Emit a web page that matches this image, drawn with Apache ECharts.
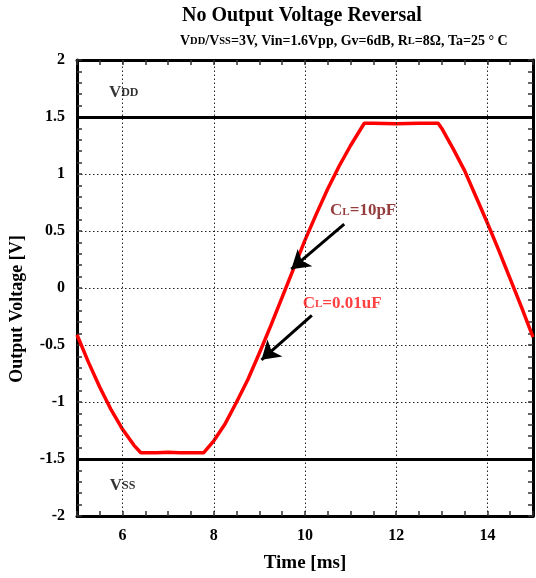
<!DOCTYPE html>
<html>
<head>
<meta charset="utf-8">
<script src="https://cdn.jsdelivr.net/npm/echarts@6/dist/echarts.min.js"></script>
<style>
html,body{margin:0;padding:0;background:#fff;}
#chart{width:536px;height:578px;}
</style>
</head>
<body>
<div id="chart"></div>
<script>
// Time in ms
const timeMs = [5.00, 5.25, 5.50, 5.75, 6.00, 6.25, 6.40, 6.75, 7.00, 7.25, 7.50, 7.78,
  8.00, 8.25, 8.50, 8.75, 9.00, 9.25, 9.50, 9.75, 10.00, 10.25, 10.50, 10.75, 11.00,
  11.30, 11.50, 12.00, 12.50, 12.92, 13.00, 13.25, 13.50, 13.75, 14.00, 14.25, 14.50,
  14.75, 15.00];
// Output voltage in V
const outputV = [-0.41, -0.65, -0.87, -1.07, -1.24, -1.38, -1.445, -1.445, -1.44, -1.445, -1.445, -1.445,
  -1.34, -1.19, -1.00, -0.80, -0.57, -0.33, -0.08, 0.17, 0.42, 0.65, 0.87, 1.07, 1.25,
  1.445, 1.445, 1.44, 1.445, 1.445, 1.40, 1.22, 1.03, 0.80, 0.57, 0.33, 0.08,
  -0.17, -0.43];
const railLevels = [1.5, -1.5];
const xGridValues = [6, 8, 10, 12, 14];
const xLabelValues = [6, 8, 10, 12, 14];
const yTicks = [-2, -1.5, -1, -0.5, 0, 0.5, 1, 1.5, 2];

const FONT = '"Liberation Serif", "Times New Roman", serif';
const chart = echarts.init(document.getElementById('chart'), null, {renderer: 'canvas'});

const axisCommon = {
  type: 'value',
  axisLine: {show: true, onZero: false, lineStyle: {color: '#000', width: 3}},
  axisTick: {show: true, inside: true, length: 5, lineStyle: {color: '#333', width: 1.5}},
  minorTick: {show: true, length: 5, lineStyle: {color: '#333', width: 1.5}},
  minorSplitLine: {show: false}
};

function sub(color, size) {
  return {fontFamily: FONT, fontWeight: 'bold', fontSize: size, color: color, verticalAlign: 'bottom', padding: [0, 0, 2, 0]};
}
function big(color, size) {
  return {fontFamily: FONT, fontWeight: 'bold', fontSize: size, color: color};
}

const option = {
  animation: false,
  backgroundColor: '#fff',
  title: [
    {text: 'No Output Voltage Reversal', left: 177, top: 1,
     textStyle: {fontFamily: FONT, fontWeight: 'bold', fontSize: 20, color: '#000'}},
    {text: '{b|V}{s|DD}{b|/V}{s|SS}{b|=3V, Vin=1.6Vpp, Gv=6dB, R}{s|L}{b|=8Ω, Ta=25 ° C}', left: 175, top: 29,
     textStyle: {rich: {
       b: big('#000', 14),
       s: Object.assign(sub('#000', 10.5), {padding: [0, 0, 1.5, 0]})
     }}}
  ],
  grid: {left: 77, right: -1, top: 60, bottom: 60, containLabel: false},
  xAxis: [
    Object.assign({}, axisCommon, {
      min: 5, max: 15, interval: 1, position: 'bottom',
      minorTick: Object.assign({}, axisCommon.minorTick, {splitNumber: 2}),
      axisLabel: {show: true, margin: 12, fontFamily: FONT, fontWeight: 'bold', fontSize: 16, color: '#000',
        formatter: v => (xLabelValues.indexOf(v) >= 0 ? String(v) : '')},
      splitLine: {show: false},
      name: 'Time [ms]', nameLocation: 'middle', nameGap: 38,
      nameTextStyle: {fontFamily: FONT, fontWeight: 'bold', fontSize: 19, color: '#000'}
    }),
    Object.assign({}, axisCommon, {
      min: 5, max: 15, interval: 1, position: 'top',
      minorTick: Object.assign({}, axisCommon.minorTick, {splitNumber: 2}),
      axisLabel: {show: false}, splitLine: {show: false}
    })
  ],
  yAxis: [
    Object.assign({}, axisCommon, {
      min: -2, max: 2, interval: 0.5, position: 'left',
      minorTick: Object.assign({}, axisCommon.minorTick, {splitNumber: 5}),
      axisLabel: {show: true, margin: 12, fontFamily: FONT, fontWeight: 'bold', fontSize: 16, color: '#000',
        formatter: v => (yTicks.indexOf(v) >= 0 ? String(v) : '')},
      splitLine: {show: true, lineStyle: {color: '#222', width: 1, type: [1.5, 2.5]}},
      name: 'Output Voltage [V]', nameLocation: 'middle', nameGap: 51, nameRotate: 90,
      nameTextStyle: {fontFamily: FONT, fontWeight: 'bold', fontSize: 18, color: '#000', padding: [0, 42, 0, 0]}
    }),
    Object.assign({}, axisCommon, {
      min: -2, max: 2, interval: 0.5, position: 'right',
      minorTick: Object.assign({}, axisCommon.minorTick, {splitNumber: 5}),
      axisLabel: {show: false}, splitLine: {show: false}
    })
  ],
  series: [
    {
      type: 'line', name: 'grid', xAxisIndex: 0, yAxisIndex: 0, data: [], silent: true,
      markLine: {
        silent: true, symbol: ['none', 'none'], label: {show: false},
        lineStyle: {color: '#222', width: 1, type: [1.5, 2.5]},
        data: xGridValues.map(v => ({xAxis: v}))
      }
    },
    {
      type: 'line', name: 'rails', xAxisIndex: 0, yAxisIndex: 0, data: [], silent: true, z: 3,
      markLine: {
        silent: true, symbol: ['none', 'none'], label: {show: false},
        lineStyle: {color: '#000', width: 3, type: 'solid'},
        data: railLevels.map(v => ({yAxis: v}))
      }
    },
    {
      type: 'line', name: 'Vout', xAxisIndex: 0, yAxisIndex: 0,
      data: timeMs.map((t, i) => [t, outputV[i]]),
      showSymbol: false, symbol: 'none', smooth: false, z: 4,
      lineStyle: {color: '#ff0000', width: 3.5}
    },
    {
      type: 'line', name: 'arrows', xAxisIndex: 0, yAxisIndex: 0, data: [], silent: true, z: 5,
      markLine: {
        silent: true, symbol: ['none', 'arrow'], symbolSize: [17, 18], label: {show: false},
        lineStyle: {color: '#000', width: 3, type: 'solid'},
        data: [
          [{coord: [10.86, 0.56]}, {coord: [9.70, 0.165]}],
          [{coord: [10.15, -0.24]}, {coord: [9.045, -0.63]}]
        ]
      }
    },
    {
      type: 'scatter', name: 'labels', xAxisIndex: 0, yAxisIndex: 0, symbolSize: 0, silent: true, z: 6,
      label: {show: true, position: 'right', distance: 0},
      data: [
        {value: [10.55, 0.676], label: {formatter: '{c|C}{l|L}{c|=10pF}', rich: {
          c: big('#7a0c0c', 17), l: sub('#7a0c0c', 11)}}},
        {value: [9.95, -0.135], label: {formatter: '{c|C}{l|L}{c|=0.01uF}', rich: {
          c: big('#ff1010', 17), l: sub('#ff1010', 11)}}},
        {value: [5.70, 1.718], label: {formatter: '{c|V}{l|DD}', rich: {
          c: big('#000', 17), l: sub('#000', 12)}}},
        {value: [5.72, -1.733], label: {formatter: '{c|V}{l|SS}', rich: {
          c: big('#000', 17), l: sub('#000', 12)}}}
      ]
    }
  ]
};
chart.setOption(option);
</script>
</body>
</html>
